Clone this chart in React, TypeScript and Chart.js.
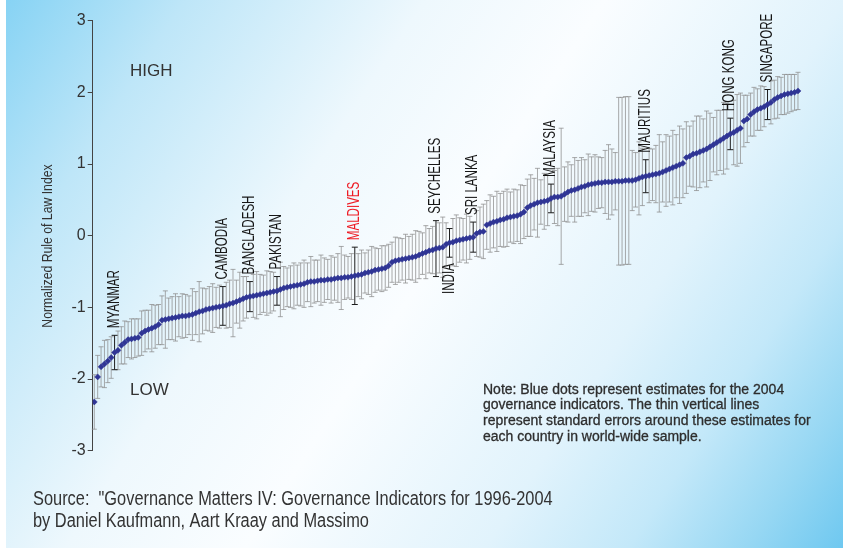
import React, { useEffect, useRef } from "react";
import { Chart, registerables } from "chart.js";

Chart.register(...registerables);

// Rule of law estimates, ordered from lowest to highest
const ruleOfLaw: number[] = [
  -2.32, -1.97, -1.83, -1.79, -1.75, -1.70, -1.63, -1.60, -1.53, -1.49,
  -1.45, -1.44, -1.43, -1.42, -1.36, -1.33, -1.31, -1.29, -1.27, -1.24,
  -1.18, -1.17, -1.16, -1.15, -1.14, -1.13, -1.12, -1.12, -1.11, -1.10,
  -1.08, -1.06, -1.05, -1.03, -1.02, -1.01, -1.00, -0.99, -0.98, -0.97,
  -0.95, -0.94, -0.92, -0.90, -0.88, -0.86, -0.85, -0.84, -0.83, -0.82,
  -0.81, -0.80, -0.79, -0.78, -0.77, -0.75, -0.73, -0.72, -0.71, -0.70,
  -0.69, -0.68, -0.67, -0.65, -0.64, -0.64, -0.63, -0.62, -0.62, -0.61,
  -0.61, -0.60, -0.59, -0.59, -0.58, -0.58, -0.57, -0.56, -0.55, -0.54,
  -0.52, -0.51, -0.50, -0.48, -0.47, -0.46, -0.45, -0.42, -0.37, -0.35,
  -0.34, -0.33, -0.32, -0.31, -0.30, -0.29, -0.27, -0.25, -0.23, -0.21,
  -0.20, -0.18, -0.17, -0.16, -0.12, -0.10, -0.09, -0.07, -0.06, -0.05,
  -0.04, -0.03, -0.02, 0.03, 0.05, 0.06, 0.15, 0.17, 0.19, 0.20,
  0.22, 0.23, 0.25, 0.26, 0.27, 0.28, 0.30, 0.33, 0.39, 0.42,
  0.44, 0.46, 0.47, 0.48, 0.49, 0.52, 0.54, 0.54, 0.55, 0.58,
  0.61, 0.63, 0.64, 0.66, 0.68, 0.69, 0.71, 0.72, 0.73, 0.74,
  0.74, 0.75, 0.75, 0.75, 0.76, 0.76, 0.76, 0.77, 0.77, 0.77,
  0.78, 0.80, 0.82, 0.83, 0.84, 0.85, 0.86, 0.87, 0.89, 0.91,
  0.93, 0.95, 0.97, 0.99, 1.01, 1.09, 1.11, 1.14, 1.15, 1.17,
  1.19, 1.21, 1.24, 1.27, 1.30, 1.33, 1.36, 1.39, 1.42, 1.44,
  1.47, 1.50, 1.60, 1.63, 1.69, 1.73, 1.76, 1.78, 1.80, 1.83,
  1.86, 1.90, 1.93, 1.95, 1.97, 1.98, 1.99, 2.00, 2.02,
];

// Standard error of each estimate (half-length of its vertical line)
const stdErr: number[] = [
  0.38, 0.30, 0.28, 0.33, 0.30, 0.29, 0.24, 0.27, 0.26, 0.30,
  0.25, 0.28, 0.27, 0.26, 0.31, 0.29, 0.27, 0.33, 0.30, 0.28,
  0.34, 0.40, 0.29, 0.30, 0.33, 0.28, 0.31, 0.30, 0.27, 0.36,
  0.30, 0.42, 0.32, 0.29, 0.31, 0.34, 0.28, 0.30, 0.27, 0.32,
  0.33, 0.47, 0.30, 0.39, 0.31, 0.29, 0.21, 0.30, 0.33, 0.28,
  0.26, 0.31, 0.29, 0.27, 0.20, 0.38, 0.30, 0.27, 0.29, 0.32,
  0.28, 0.30, 0.33, 0.27, 0.35, 0.30, 0.29, 0.35, 0.31, 0.28,
  0.33, 0.30, 0.34, 0.44, 0.31, 0.29, 0.32, 0.40, 0.30, 0.34,
  0.28, 0.31, 0.35, 0.31, 0.29, 0.32, 0.31, 0.30, 0.28, 0.33,
  0.31, 0.29, 0.34, 0.30, 0.32, 0.36, 0.33, 0.29, 0.37, 0.31,
  0.33, 0.39, 0.35, 0.42, 0.30, 0.20, 0.33, 0.36, 0.31, 0.29,
  0.34, 0.30, 0.21, 0.32, 0.35, 0.38, 0.34, 0.40, 0.36, 0.42,
  0.37, 0.39, 0.40, 0.35, 0.38, 0.36, 0.41, 0.37, 0.40, 0.43,
  0.36, 0.48, 0.31, 0.39, 0.35, 0.20, 0.37, 0.40, 0.95, 0.38,
  0.42, 0.36, 0.45, 0.39, 0.41, 0.37, 0.43, 0.38, 0.40, 0.36,
  0.35, 0.44, 0.52, 0.46, 0.40, 1.17, 1.17, 1.17, 1.17, 0.42,
  0.38, 0.51, 0.40, 0.23, 0.38, 0.36, 0.40, 0.54, 0.42, 0.50,
  0.46, 0.52, 0.44, 0.54, 0.48, 0.50, 0.42, 0.46, 0.52, 0.50,
  0.44, 0.53, 0.47, 0.38, 0.45, 0.42, 0.50, 0.46, 0.22, 0.45,
  0.50, 0.49, 0.36, 0.33, 0.30, 0.34, 0.29, 0.31, 0.28, 0.21,
  0.30, 0.27, 0.29, 0.26, 0.28, 0.27, 0.26, 0.25, 0.26,
];

// Countries picked out with a dark bar and a vertical name
const markedNames: string[] = [
  "MYANMAR", "CAMBODIA", "BANGLADESH", "PAKISTAN", "MALDIVES", "SEYCHELLES",
  "INDIA", "SRI LANKA", "MALAYSIA", "MAURITIUS", "HONG KONG", "SINGAPORE",
];
const markedIndex: number[] = [6, 38, 46, 54, 77, 101, 105, 112, 135, 163, 188, 199];

const yTicks: number[] = [-3, -2, -1, 0, 1, 2, 3];

const noteLines: string[] = [
  "Note: Blue dots represent estimates for the 2004",
  "governance indicators. The thin vertical lines",
  "represent standard errors around these estimates for",
  "each country in world-wide sample.",
];
const sourceLines: string[] = [
  'Source:  "Governance Matters IV: Governance Indicators for 1996-2004',
  "by Daniel Kaufmann, Aart Kraay and Massimo",
];

const FONT = "'Liberation Sans', Arial, Helvetica, sans-serif";
const DOT = "#2f3595";

function stretchedText(
  ctx: CanvasRenderingContext2D,
  text: string,
  x: number,
  y: number,
  opts: { size: number; sx?: number; color?: string; align?: CanvasTextAlign; rotate?: boolean; baseline?: CanvasTextBaseline; heavy?: number }
) {
  ctx.save();
  ctx.translate(x, y);
  if (opts.rotate) ctx.rotate(-Math.PI / 2);
  ctx.scale(opts.sx ?? 1, 1);
  ctx.font = `${opts.size}px ${FONT}`;
  ctx.fillStyle = opts.color ?? "#333";
  ctx.textAlign = opts.align ?? "left";
  ctx.textBaseline = opts.baseline ?? "alphabetic";
  ctx.fillText(text, 0, 0);
  if (opts.heavy) {
    ctx.strokeStyle = opts.color ?? "#333";
    ctx.lineWidth = opts.heavy;
    ctx.strokeText(text, 0, 0);
  }
  ctx.restore();
}

const backdrop = {
  id: "backdrop",
  beforeDraw(chart: any) {
    const { ctx, width, height } = chart;
    ctx.save();
    ctx.fillStyle = "#ffffff";
    ctx.fillRect(0, 0, width, height);
    const g = ctx.createLinearGradient(6, 0, width, height);
    g.addColorStop(0, "rgb(135,211,244)");
    g.addColorStop(0.15, "rgb(190,230,248)");
    g.addColorStop(0.35, "rgb(238,248,253)");
    g.addColorStop(0.5, "rgb(250,253,255)");
    g.addColorStop(0.7, "rgb(225,243,252)");
    g.addColorStop(0.82, "rgb(195,232,249)");
    g.addColorStop(0.92, "rgb(150,215,243)");
    g.addColorStop(1, "rgb(110,200,240)");
    ctx.fillStyle = g;
    ctx.fillRect(6, 0, width - 6, height - 2);
    ctx.restore();
  },
};

const errorBars = {
  id: "errorBars",
  beforeDatasetsDraw(chart: any) {
    const { ctx } = chart;
    const xs = chart.scales.x;
    const ys = chart.scales.y;
    const marked = new Set(markedIndex);
    ctx.save();
    ctx.lineWidth = 1;
    const drawBar = (i: number, color: string, cap: number) => {
      const px = xs.getPixelForValue(i);
      const top = ys.getPixelForValue(ruleOfLaw[i] + stdErr[i]);
      const bot = ys.getPixelForValue(ruleOfLaw[i] - stdErr[i]);
      ctx.strokeStyle = color;
      ctx.beginPath();
      ctx.moveTo(px, top);
      ctx.lineTo(px, bot);
      ctx.moveTo(px - cap, top);
      ctx.lineTo(px + cap, top);
      ctx.moveTo(px - cap, bot);
      ctx.lineTo(px + cap, bot);
      ctx.stroke();
    };
    ruleOfLaw.forEach((_, i) => {
      if (!marked.has(i)) drawBar(i, "rgba(140,140,140,0.75)", 2.5);
    });
    markedIndex.forEach((i) => drawBar(i, "#1c1c1c", 3));
    ctx.restore();
  },
};

const annotations = {
  id: "annotations",
  afterDatasetsDraw(chart: any) {
    const { ctx } = chart;
    const xs = chart.scales.x;
    const ys = chart.scales.y;

    markedIndex.forEach((idx, k) => {
      const name = markedNames[k];
      const px = xs.getPixelForValue(idx);
      const below = name === "INDIA";
      const anchor = below
        ? ys.getPixelForValue(ruleOfLaw[idx] - stdErr[idx]) + 6
        : ys.getPixelForValue(ruleOfLaw[idx] + stdErr[idx]) - 7;
      stretchedText(ctx, name, px + 4, anchor, {
        size: 17,
        sx: 0.68,
        color: name === "MALDIVES" ? "#ee1c25" : "#161616",
        align: below ? "right" : "left",
        rotate: true,
      });
    });

    stretchedText(ctx, "Normalized Rule of Law Index", 52, 246, {
      size: 15.5, sx: 0.79, color: "#333", align: "center", rotate: true,
    });
    stretchedText(ctx, "HIGH", 130, 71.5, { size: 17, color: "#333", baseline: "middle" });
    stretchedText(ctx, "LOW", 130, 390.5, { size: 17, color: "#333", baseline: "middle" });

    noteLines.forEach((line, k) => {
      stretchedText(ctx, line, 483, 390 + k * 15.6, { size: 14, color: "#2e2e2e", baseline: "middle", heavy: 0.3 });
    });
    sourceLines.forEach((line, k) => {
      stretchedText(ctx, line, 33, 500 + k * 22, { size: 19.5, sx: 0.84, color: "#333", baseline: "middle" });
    });
  },
};

export default function App() {
  const ref = useRef<HTMLCanvasElement>(null);

  useEffect(() => {
    const canvas = ref.current;
    if (!canvas) return;
    const chart = new Chart(canvas, {
      type: "scatter",
      data: {
        datasets: [
          {
            data: ruleOfLaw.map((v, i) => ({ x: i, y: v })),
            pointStyle: "rectRot",
            pointRadius: 3,
            pointBackgroundColor: DOT,
            pointBorderColor: DOT,
            pointBorderWidth: 0.5,
            showLine: false,
          },
        ],
      },
      options: {
        animation: false,
        responsive: false,
        devicePixelRatio: 1,
        layout: { padding: { left: 6.7, top: 20.7, right: 23, bottom: 99.3 } },
        plugins: { legend: { display: false }, tooltip: { enabled: false } },
        scales: {
          x: { type: "linear", min: -0.47, max: 214.51, display: false },
          y: {
            min: -3,
            max: 3,
            afterBuildTicks: (s: any) => {
              s.ticks = yTicks.map((v) => ({ value: v }));
            },
            afterFit: (s: any) => {
              s.width = 86;
            },
            ticks: {
              color: "#333",
              font: { family: FONT, size: 16 },
              padding: 2,
            },
            grid: { drawOnChartArea: false, drawTicks: true, tickLength: 5, color: "#444", lineWidth: 1 },
            border: { display: true, color: "#444", width: 1 },
          },
        },
      },
      plugins: [backdrop, errorBars, annotations],
    } as any);
    return () => chart.destroy();
  }, []);

  return (
    <div style={{ position: "fixed", left: 0, top: 0, width: 843, height: 550, background: "#fff" }}>
      <canvas ref={ref} width={843} height={550} style={{ display: "block", width: 843, height: 550 }} />
    </div>
  );
}
